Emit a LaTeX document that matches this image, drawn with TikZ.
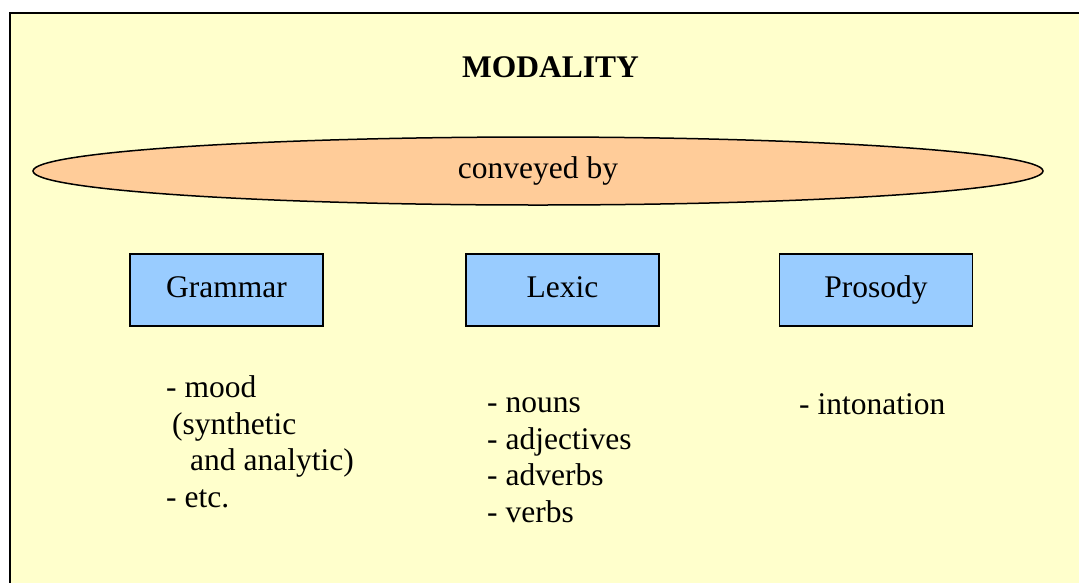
\documentclass[tikz,border=0pt]{standalone}
\usepackage{fontspec}
\setmainfont{Liberation Serif}
\usetikzlibrary{shapes.geometric}
\definecolor{bgyellow}{HTML}{FFFFCC}
\definecolor{peach}{HTML}{FFCC99}
\definecolor{lightblue}{HTML}{99CCFF}
\tikzset{
  bigfont/.style={font=\fontsize{31.5}{36.5}\selectfont},
  catbox/.style={draw=black, line width=1.5pt, fill=lightblue, minimum width=193pt, minimum height=72pt, inner sep=0pt, text height=21pt, text depth=7pt, bigfont},
  listtext/.style={anchor=base west, align=left, inner sep=0pt, bigfont},
}
\begin{document}
\begin{tikzpicture}[x=1pt,y=-1pt]
\useasboundingbox (0,0) rectangle (1079,582);
\clip (0,0) rectangle (1079,582);
\fill[white] (0,0) rectangle (1079,582);
\draw[line width=2pt, fill=bgyellow] (10,13) rectangle (1095,600);
\node[font=\bfseries\fontsize{31.5}{36.5}\selectfont, inner sep=0pt, anchor=base] (title) at (550.5,77) {MODALITY};
\node[ellipse, draw=black, line width=1.5pt, fill=peach, minimum width=1010pt, minimum height=68pt, inner sep=0pt, text height=21pt, text depth=7pt, bigfont] (conv) at (538,171) {conveyed by};
\node[catbox] (gram) at (226.5,290) {Grammar};
\node[catbox] (lex) at (562.5,290) {Lexic};
\node[catbox] (pros) at (876,290) {Prosody};
\node[listtext] (glist) at (166,507) {- mood\\\hspace*{6pt}(synthetic\\\hspace*{24pt}and analytic)\\- etc.};
\node[listtext] (llist) at (487,522) {- nouns\\- adjectives\\- adverbs\\- verbs};
\node[listtext] (plist) at (799,414) {- intonation};
\end{tikzpicture}
\end{document}
